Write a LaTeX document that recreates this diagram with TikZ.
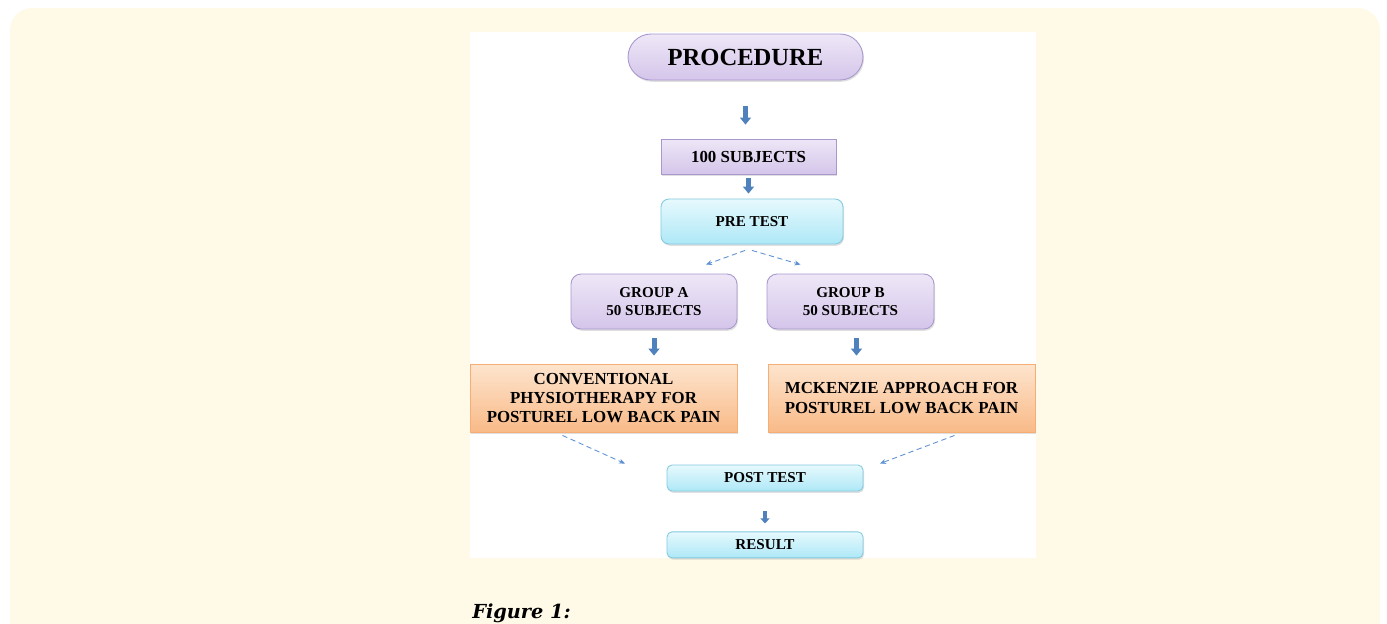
\documentclass[tikz,border=0pt]{standalone}
\usepackage{fontspec}
\setmainfont{Liberation Serif}
\newfontfamily\capfont{DejaVu Serif}
\usetikzlibrary{positioning,arrows.meta,calc,shadows}

\definecolor{cream}{HTML}{FFFAE7}
\definecolor{lavtop}{HTML}{EEE7F7}
\definecolor{lavbot}{HTML}{D4C5EA}
\definecolor{lavline}{HTML}{A898CD}
\definecolor{cyantop}{HTML}{E6F9FD}
\definecolor{cyanbot}{HTML}{AEE8F7}
\definecolor{cyanline}{HTML}{84CBE0}
\definecolor{orgtop}{HTML}{FDE4CD}
\definecolor{orgbot}{HTML}{F9BA88}
\definecolor{orgline}{HTML}{F6AE74}
\definecolor{arrblue}{HTML}{4F81BD}
\definecolor{thinblue}{HTML}{5E92D2}

\begin{document}
\begin{tikzpicture}[x=0.02cm, y=-0.02cm, >=Stealth,
  box/.style={draw, line width=0.5pt, align=center, inner sep=1pt,
    font=\bfseries\fontsize{8.6}{10.2}\selectfont,
    drop shadow={shadow xshift=0.6pt, shadow yshift=-1pt, opacity=0.25}},
  lav/.style={box, top color=lavtop, bottom color=lavbot, draw=lavline},
  cyan/.style={box, top color=cyantop, bottom color=cyanbot, draw=cyanline},
  org/.style={box, top color=orgtop, bottom color=orgbot, draw=orgline,
    font=\bfseries\fontsize{9.6}{11}\selectfont},
  blockarr/.style={draw=arrblue, line width=0.1cm,
    -{Triangle[width=0.22cm, length=0.14cm]}},
  thinarr/.style={thinblue, line width=0.5pt, densely dashed,
    -{Stealth[length=0.12cm, width=0.1cm]}}]
  % page and panel
  \useasboundingbox (0,0) rectangle (1387,623);
  \clip (0,0) rectangle (1387,623);
  \fill[white] (0,0) rectangle (1387,623);
  \fill[cream, rounded corners=0.44cm] (10,8) rectangle (1380,680);
  \fill[white] (470,32) rectangle (1036,558);
  % boxes
  \node[lav, rounded corners=0.46cm, minimum width=4.7cm, minimum height=0.92cm,
    font=\bfseries\fontsize{14}{16}\selectfont] (proc) at (745.5,57) {PROCEDURE};
  \node[lav, minimum width=3.5cm, minimum height=0.7cm,
    font=\bfseries\fontsize{9.6}{11}\selectfont] (subj) at (748.5,156.5) {100 SUBJECTS};
  \node[cyan, rounded corners=0.16cm, minimum width=3.64cm, minimum height=0.9cm]
    (pre) at (752,221.5) {PRE TEST};
  \node[lav, rounded corners=0.2cm, minimum width=3.32cm, minimum height=1.1cm]
    (ga) at (654,301.5) {GROUP A\\50 SUBJECTS};
  \node[lav, rounded corners=0.2cm, minimum width=3.34cm, minimum height=1.1cm]
    (gb) at (850.5,301.5) {GROUP B\\50 SUBJECTS};
  \node[org, minimum width=5.34cm, minimum height=1.36cm] (conv) at (603.5,398)
    {CONVENTIONAL\\PHYSIOTHERAPY FOR\\POSTUREL LOW BACK PAIN};
  \node[org, minimum width=5.34cm, minimum height=1.36cm] (mck) at (901.5,398)
    {MCKENZIE APPROACH FOR\\POSTUREL LOW BACK PAIN};
  \node[cyan, rounded corners=0.1cm, minimum width=3.92cm, minimum height=0.52cm]
    (post) at (765,478) {POST TEST};
  \node[cyan, rounded corners=0.1cm, minimum width=3.92cm, minimum height=0.52cm,
    below=0.8cm of post] (res) {RESULT};
  % block arrows
  \draw[blockarr, shorten <=0.52cm, shorten >=0.28cm] (proc.south) -- (proc.south |- subj.north);
  \draw[blockarr, shorten <=0.08cm, shorten >=0.1cm] (subj.south) -- (subj.south |- pre.north);
  \draw[blockarr, shorten <=0.18cm, shorten >=0.16cm] (ga.south) -- (ga.south |- conv.north);
  \draw[blockarr, shorten <=0.18cm, shorten >=0.16cm] ([xshift=0.12cm]gb.south) -- ([xshift=0.12cm]gb.south |- mck.north);
  \draw[blockarr, line width=0.08cm, -{Triangle[width=0.18cm, length=0.1cm]},
    shorten <=0.4cm, shorten >=0.16cm] (post.south) -- (post.south |- res.north);
  % thin arrows
  \draw[thinarr] ($(pre.south)+(-7,6)$) -- ($(ga.north)+(52,-9)$);
  \draw[thinarr] ($(pre.south)+(0,6)$) -- ($(gb.north)+(-50,-9)$);
  \draw[thinarr] ($(conv.south)+(-41,3)$) -- ($(post.north)+(-140,-1)$);
  \draw[thinarr] ($(mck.south)+(53,3)$) -- ($(post.north)+(115,-1)$);
  % caption
  \node[anchor=base west, inner sep=0pt, font=\capfont\bfseries\itshape\fontsize{11}{13}\selectfont]
    (cap) at (472,618) {Figure 1:};
\end{tikzpicture}
\end{document}
